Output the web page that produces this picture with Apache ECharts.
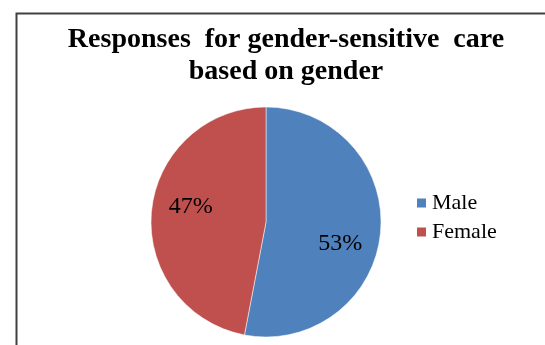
<!DOCTYPE html>
<html><head><meta charset="utf-8">
<script src="https://cdn.jsdelivr.net/npm/echarts@6/dist/echarts.min.js"></script>
<style>html,body{margin:0;padding:0;background:#fff;}#c{width:545px;height:345px;}</style>
</head><body><div id="c"></div>
<script>
const categories = ['Male', 'Female'];
const values = [53, 47];
const colors = ['#4f81bd', '#c0504d'];
const titleText = 'Responses  for gender-sensitive  care\nbased on gender';
const FONT = "'Liberation Serif', 'Times New Roman', serif";

const chart = echarts.init(document.getElementById('c'));
chart.setOption({
  animation: false,
  graphic: [{
    type: 'rect', left: 14, top: 11,
    shape: { width: 600, height: 400 },
    style: { fill: 'none', stroke: '#404040', lineWidth: 2 }
  }],
  title: {
    text: titleText, left: 281, top: 19, textAlign: 'center',
    textStyle: { fontFamily: FONT, fontWeight: 'bold', fontSize: 28, color: '#000', lineHeight: 32 }
  },
  legend: {
    orient: 'vertical', left: 415, top: 192, padding: 0, itemWidth: 11, itemHeight: 11, itemGap: 7,
    icon: 'rect',
    textStyle: { fontFamily: FONT, fontSize: 22, color: '#000' },
    data: categories
  },
  series: [{
    type: 'pie', center: [266, 222], radius: 115, startAngle: 90, clockwise: true,
    color: colors,
    label: {
      position: 'inside', formatter: '{d}%',
      fontFamily: FONT, fontSize: 24, color: '#000'
    },
    labelLine: { show: false },
    itemStyle: { borderColor: '#fff', borderWidth: 0.5 },
    data: categories.map((c, i) => ({
      name: c, value: values[i],
      label: i === 0 ? { offset: [14, 16] } : { offset: [-15, -10] }
    }))
  }]
});
</script></body></html>
